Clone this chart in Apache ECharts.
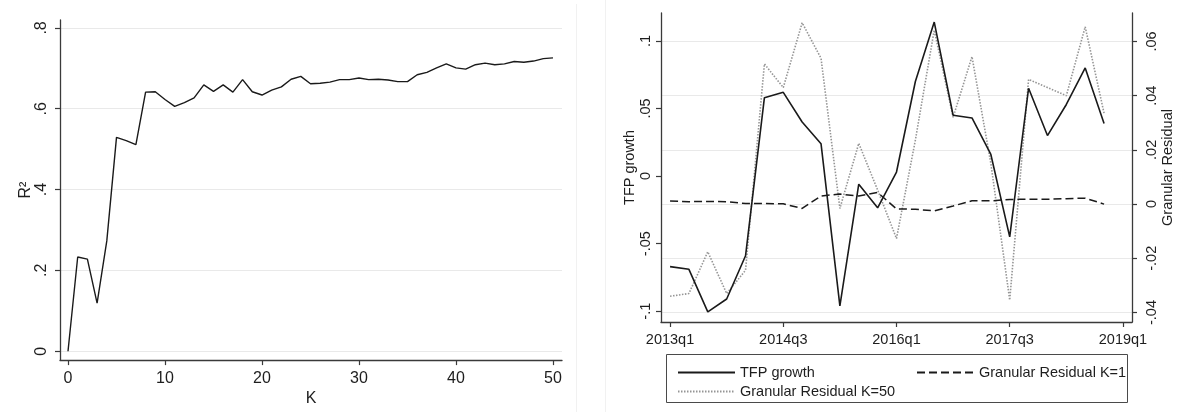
<!DOCTYPE html>
<html>
<head>
<meta charset="utf-8">
<script src="https://cdn.jsdelivr.net/npm/echarts@6/dist/echarts.min.js"></script>
<style>
  html, body { margin: 0; padding: 0; background: #ffffff; }
  #chart { width: 1189px; height: 412px; }
</style>
</head>
<body>
<div id="chart"></div>
<script>
// Left panel: R² against number of firms K
const kValues = Array.from({ length: 51 }, (_, i) => i);
const r2Values = [
  0.000, 0.233, 0.228, 0.119, 0.273, 0.529, 0.521, 0.511, 0.641, 0.642,
  0.623, 0.606, 0.615, 0.627, 0.659, 0.643, 0.659, 0.641, 0.672, 0.642,
  0.634, 0.646, 0.654, 0.673, 0.680, 0.662, 0.663, 0.666, 0.672, 0.672,
  0.676, 0.672, 0.673, 0.671, 0.667, 0.667, 0.684, 0.690, 0.701, 0.711,
  0.701, 0.698, 0.709, 0.713, 0.709, 0.711, 0.717, 0.715, 0.718, 0.724,
  0.726
];
const kTicks = [0, 10, 20, 30, 40, 50];
const kTickLabels = ['0', '10', '20', '30', '40', '50'];
const r2Ticks = [0, 0.2, 0.4, 0.6, 0.8];
const r2TickLabels = ['0', '.2', '.4', '.6', '.8'];

// Right panel: quarterly TFP growth and granular residuals
const quarters = [
  '2013q1', '2013q2', '2013q3', '2013q4', '2014q1', '2014q2', '2014q3', '2014q4',
  '2015q1', '2015q2', '2015q3', '2015q4', '2016q1', '2016q2', '2016q3', '2016q4',
  '2017q1', '2017q2', '2017q3', '2017q4', '2018q1', '2018q2', '2018q3', '2018q4'
];
const tfpGrowth = [
  -0.067, -0.069, -0.1005, -0.091, -0.059, 0.058, 0.062, 0.040,
  0.024, -0.096, -0.006, -0.0235, 0.003, 0.070, 0.114, 0.045,
  0.043, 0.016, -0.045, 0.065, 0.030, 0.053, 0.080, 0.039
];
const residualK1 = [
  0.0011, 0.0009, 0.0010, 0.0009, 0.0002, 0.0002, 0.0001, -0.0016,
  0.0030, 0.0037, 0.0030, 0.0043, -0.0018, -0.0019, -0.0025, -0.0007,
  0.0012, 0.0012, 0.0017, 0.0018, 0.0018, 0.0020, 0.0022, 0.0000
];
const residualK50 = [
  -0.0340, -0.0330, -0.0176, -0.0330, -0.0244, 0.0517, 0.0430, 0.0669,
  0.0538, -0.0016, 0.0224, 0.0052, -0.0127, 0.0236, 0.0642, 0.0320,
  0.0544, 0.0150, -0.0354, 0.0460, 0.0430, 0.0400, 0.0654, 0.0335
];
const quarterTicks = [0, 6, 12, 18, 24];
const quarterTickLabels = ['2013q1', '2014q3', '2016q1', '2017q3', '2019q1'];
const tfpTicks = [-0.1, -0.05, 0, 0.05, 0.1];
const tfpTickLabels = ['-.1', '-.05', '0', '.05', '.1'];
const residTicks = [-0.04, -0.02, 0, 0.02, 0.04, 0.06];
const residTickLabels = ['-.04', '-.02', '0', '.02', '.04', '.06'];

const FONT = '"Liberation Sans", Arial, sans-serif';
const AXIS_COLOR = '#3a3a3a';
const TEXT_COLOR = '#1e1e1e';
const GRID_COLOR = '#e9e9e9';

function labelFrom(ticks, labels) {
  return function (v) {
    const i = ticks.findIndex(t => Math.abs(t - v) < 1e-9);
    return i >= 0 ? labels[i] : '';
  };
}

function axisBase(ticks, labels, fontSize, margin, rotate) {
  return {
    type: 'value',
    axisLine: { show: true, onZero: false, lineStyle: { color: AXIS_COLOR, width: 1.3 } },
    axisTick: { show: true, length: 5, customValues: ticks, lineStyle: { color: AXIS_COLOR, width: 1.2 } },
    axisLabel: {
      customValues: ticks,
      formatter: labelFrom(ticks, labels),
      fontFamily: FONT, fontSize: fontSize, color: TEXT_COLOR,
      margin: margin, rotate: rotate || 0
    },
    nameTextStyle: { fontFamily: FONT, fontSize: fontSize, color: TEXT_COLOR },
    splitLine: { show: false }
  };
}

const chart = echarts.init(document.getElementById('chart'), null, { renderer: 'canvas' });

const legendText = { fontFamily: FONT, fontSize: 14.5, color: TEXT_COLOR };

const option = {
  animation: false,
  backgroundColor: '#ffffff',
  grid: [
    { left: 60, top: 20, width: 502, height: 344, containLabel: false },
    { left: 661, top: 13, width: 471, height: 309, containLabel: false }
  ],
  xAxis: [
    Object.assign(axisBase(kTicks, kTickLabels, 16, 10), {
      gridIndex: 0, min: -0.825, max: 50.93,
      name: 'K', nameLocation: 'middle', nameGap: 25
    }),
    Object.assign(axisBase(quarterTicks, quarterTickLabels, 14.5, 10), {
      gridIndex: 1, min: -0.48, max: 24.48
    })
  ],
  yAxis: [
    Object.assign(axisBase(r2Ticks, r2TickLabels, 16, 10, 90), {
      gridIndex: 0, min: -0.022, max: 0.8196,
      name: 'R²', nameLocation: 'middle', nameGap: 25, nameRotate: 90,
      splitLine: { show: true, lineStyle: { color: GRID_COLOR, width: 1.2 } }
    }),
    Object.assign(axisBase(tfpTicks, tfpTickLabels, 14.5, 8, 90), {
      gridIndex: 1, position: 'left', min: -0.108, max: 0.1207,
      name: 'TFP growth', nameLocation: 'middle', nameGap: 23, nameRotate: 90
    }),
    Object.assign(axisBase(residTicks, residTickLabels, 14.5, 12, 90), {
      gridIndex: 1, position: 'right', min: -0.0435, max: 0.0705,
      name: 'Granular Residual', nameLocation: 'middle', nameGap: 28, nameRotate: 90,
      splitLine: { show: true, lineStyle: { color: GRID_COLOR, width: 1.2 } }
    })
  ],
  legend: [
    {
      orient: 'vertical', left: 672, top: 360, itemGap: 4,
      itemWidth: 57, itemHeight: 14,
      itemStyle: { opacity: 0 },
      data: ['TFP growth', 'Granular Residual K=50'],
      textStyle: legendText,
      selectedMode: false
    },
    {
      orient: 'vertical', left: 911, top: 360,
      itemWidth: 57, itemHeight: 14,
      itemStyle: { opacity: 0 },
      data: ['Granular Residual K=1'],
      textStyle: legendText,
      selectedMode: false
    }
  ],
  graphic: [
    // legend frame
    { type: 'rect', shape: { x: 666.5, y: 354.5, width: 461, height: 48 },
      style: { fill: 'none', stroke: '#4a4a4a', lineWidth: 1 }, silent: true },
    // faint panel edges
    { type: 'line', shape: { x1: 576.5, y1: 4, x2: 576.5, y2: 412 },
      style: { stroke: '#f1f1f1', lineWidth: 1 }, silent: true },
    { type: 'line', shape: { x1: 605.5, y1: 0, x2: 605.5, y2: 412 },
      style: { stroke: '#f1f1f1', lineWidth: 1 }, silent: true }
  ],
  series: [
    {
      name: 'R²', type: 'line', xAxisIndex: 0, yAxisIndex: 0,
      symbol: 'none', silent: true,
      lineStyle: { color: '#1a1a1a', width: 1.4 },
      data: kValues.map((k, i) => [k, r2Values[i]])
    },
    {
      name: 'Granular Residual K=50', type: 'line', xAxisIndex: 1, yAxisIndex: 2,
      symbol: 'none', silent: true,
      lineStyle: { color: '#959595', width: 1.6, type: [1.5, 1.5] },
      itemStyle: { color: '#959595' },
      data: quarters.map((q, i) => [i, residualK50[i]])
    },
    {
      name: 'Granular Residual K=1', type: 'line', xAxisIndex: 1, yAxisIndex: 2,
      symbol: 'none', silent: true,
      lineStyle: { color: '#1a1a1a', width: 1.5, type: [8, 4] },
      itemStyle: { color: '#1a1a1a' },
      data: quarters.map((q, i) => [i, residualK1[i]])
    },
    {
      name: 'TFP growth', type: 'line', xAxisIndex: 1, yAxisIndex: 1,
      symbol: 'none', silent: true,
      lineStyle: { color: '#1a1a1a', width: 1.6 },
      itemStyle: { color: '#1a1a1a' },
      data: quarters.map((q, i) => [i, tfpGrowth[i]])
    }
  ]
};

chart.setOption(option);
</script>
</body>
</html>
